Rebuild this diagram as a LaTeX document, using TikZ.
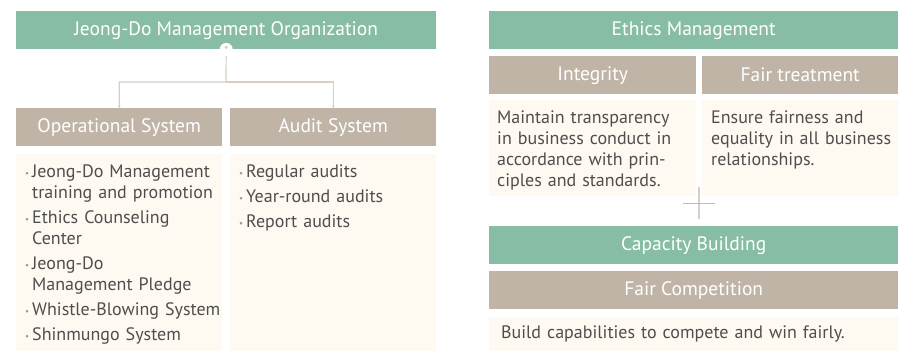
\documentclass[tikz,border=0pt]{standalone}
\usepackage{fontspec}
\setmainfont{PT Sans}
\usetikzlibrary{positioning,arrows.meta}
\definecolor{jdgreen}{HTML}{87BDA5}
\definecolor{jdbrown}{HTML}{C0B4A7}
\definecolor{jdcream}{HTML}{FEFAF2}
\definecolor{jdtext}{HTML}{4E4E4E}
\definecolor{jdbullet}{HTML}{9A9A9A}
\definecolor{jdline}{HTML}{D9CEC3}
\definecolor{jdcross}{HTML}{C4B8AC}
\newcommand\bitem[1]{\hangindent=7pt\hangafter=1\noindent\makebox[7pt][l]{\textcolor{jdbullet}{\fontsize{9}{9}\selectfont\raisebox{1.8pt}{•}}}#1}
\tikzset{
  headbar/.style={anchor=north west, minimum height=38pt, inner sep=0pt, text=white, font=\fontsize{19.5}{21}\selectfont},
  greenbar/.style={headbar, fill=jdgreen},
  brownbar/.style={headbar, fill=jdbrown},
  creambox/.style={anchor=north west, fill=jdcream, inner sep=0pt},
  bodytext/.style={anchor=north west, inner sep=0pt, align=left, text=jdtext, font=\fontsize{18}{21}\selectfont},
  linkline/.style={draw=jdline, line width=1.2pt},
}
\begin{document}
\begin{tikzpicture}[x=1pt, y=-1pt]
\useasboundingbox (0,0) rectangle (898,351);

% left: organization
\node[greenbar, minimum width=420pt] (org) at (16,11) {Jeong-Do Management Organization};
\node[brownbar, minimum width=206pt] (ops) at (16,108) {Operational System};
\node[brownbar, minimum width=206pt] (audit) at (230,108) {Audit System};
\node[creambox, minimum width=206pt, minimum height=197pt] (opsbox) at (16,154) {};
\node[creambox, minimum width=206pt, minimum height=197pt] (auditbox) at (230,154) {};

\node[bodytext, text width=210pt] (opslist) at (25,165) {\setlength\parskip{4pt}\hyphenpenalty=10000\relax
  \bitem{Jeong-Do Management\newline training and promotion}\par
  \bitem{Ethics Counseling\newline Center}\par
  \bitem{Jeong-Do\newline Management Pledge}\par
  \bitem{Whistle-Blowing System}\par
  \bitem{Shinmungo System}};
\node[bodytext, text width=194pt] (auditlist) at (239,165) {\setlength\parskip{4pt}%
  \bitem{Regular audits}\par
  \bitem{Year-round audits}\par
  \bitem{Report audits}};

\coordinate (split) at (226,82);
\draw[linkline, -{Stealth[length=2.5pt,width=3pt]}] (org.south) -- (split) -| (ops.north);
\draw[linkline, -{Stealth[length=2.5pt,width=3pt]}] (split) -| (audit.north);
\fill[white] (org.south) circle (6.5pt);
\fill[jdline] (org.south) ++(0,-2) circle (1.8pt);

% right: ethics management
\node[greenbar, minimum width=409pt] (ethics) at (489,11) {Ethics Management};
\node[brownbar, minimum width=207pt] (integ) at (489,56) {Integrity};
\node[brownbar, minimum width=196pt] (fair) at (702,56) {Fair treatment};
\node[creambox, minimum width=207pt, minimum height=96pt] (integbox) at (489,100) {};
\node[creambox, minimum width=196pt, minimum height=96pt] (fairbox) at (702,100) {};
\node[bodytext, text width=198pt] (integtext) at (497,111) {Maintain transparency\\ in business conduct in\\ accordance with prin-\\ ciples and standards.};
\node[bodytext, text width=186pt] (fairtext) at (711,111) {Ensure fairness and\\ equality in all business\\ relationships.};

\coordinate (plus) at (699,203);
\draw[jdline, line width=2pt] (plus) ++(0,-16) -- ++(0,32);
\draw[jdcross, line width=0.8pt] (plus) ++(-16,0) -- ++(32,0);

\node[greenbar, minimum width=409pt] (capa) at (489,226) {Capacity Building};
\node[brownbar, minimum width=409pt] (comp) at (489,271) {Fair Competition};
\node[creambox, minimum width=409pt, minimum height=34pt, text width=385pt, align=left, inner xsep=12pt, text=jdtext, font=\fontsize{18}{21}\selectfont] (compbox) at (489,317) {Build capabilities to compete and win fairly.};
\end{tikzpicture}
\end{document}
